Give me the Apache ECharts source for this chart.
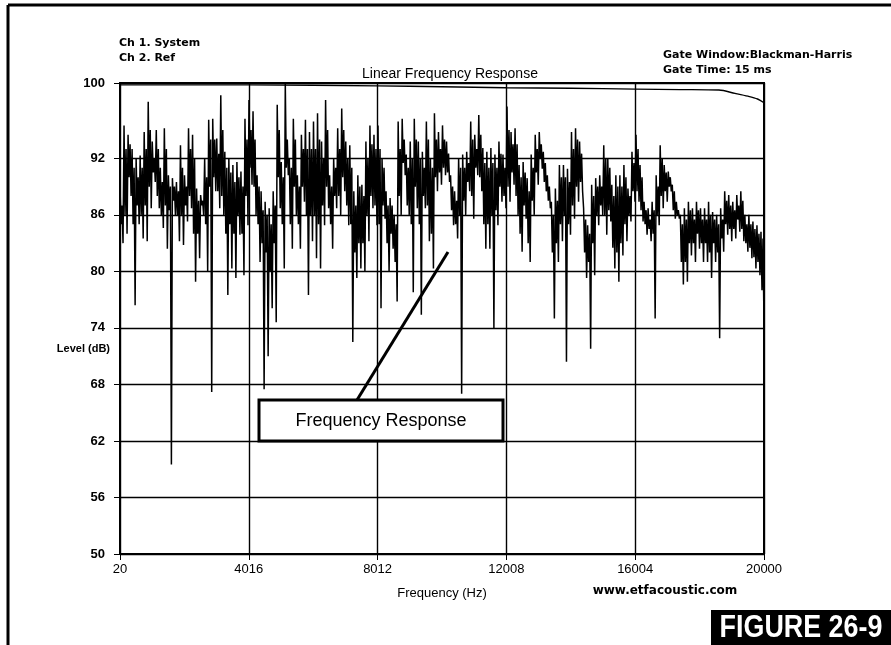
<!DOCTYPE html>
<html>
<head>
<meta charset="utf-8">
<script src="https://cdn.jsdelivr.net/npm/echarts@6/dist/echarts.min.js"></script>
<style>
html,body{margin:0;padding:0;background:#fff;}
#chart{width:891px;height:645px;}
</style>
</head>
<body>
<div id="chart"></div>
<script>
// ---- data ----
const xTicks = [20, 4016, 8012, 12008, 16004, 20000];
const yTicks = [50, 56, 62, 68, 74, 80, 86, 92, 100];

// Ch 1 (System) – per narrow frequency bin (160 bins, 20 Hz .. 20 kHz):
// highest peak, top of dense band, bottom of dense band, deepest dip (dB)
const sysUpper = [
 89,95.5,94.5,93,92,92.3,94.8,98,93.8,95,91,95.2,90.2,89.9,89.5,93.4,90.2,95.2,94.5,88.8,
 88.1,92,96.1,96.2,94.1,98.7,92.7,92,91.3,91.6,90.6,96.2,98.2,97,90.2,88.5,87.4,86.7,88.5,97.7,
 91.6,100,92,96.2,90.2,94.5,96.1,94.8,95.9,96.8,93.8,98.2,90.2,92,95.2,97.3,93.8,93.4,88.5,90.2,
 89.2,93.8,95.5,94.5,95.5,92,88.5,87.8,86,95.9,96.2,92.4,93.8,96.2,93.8,92.7,95.9,92,96.8,94.8,
 95.5,93.8,90.2,88.5,92,92.4,92.7,95.9,94.5,96.6,93.1,92.7,93.1,92.4,93.8,92.4,97.5,94.8,95.2,91.3,
 91.6,89.9,92.4,94.5,94.8,92.7,90.2,87.4,88.8,91.3,91.3,90.9,94.8,95.2,93.8,86.7,84.9,89.2,89.9,90.2,
 93.4,92,89.2,90.2,90.2,91.3,88.8,92.7,94.5,91.3,87.4,86.7,87.4,90.2,93.4,91.3,90.6,89.2,87.4,86,
 86.7,87.4,86.7,87.4,86.7,86.7,87.4,86.3,86,86.7,88.5,88.1,87.4,88.1,88.5,86,86,85.3,84.9,84.2
];
const sysBandHi = [
 87,93,93.5,91,90,91,93,95,92,93,89.5,93,89,89,88.5,91,89,93,92,87.5,
 87.5,90,94,94,92.5,95,91,90.5,89.5,90,89,94,95,94,89,86.5,86,85,87,95,
 90,94,91,94,89,93,93,93,93,94,92,95,89,91,93,95,92,91,87,89,
 88,92,93.5,93,93,91,87,87,85,93,94,91,92,94,92,91,94,91,94,93,
 94,92.5,89,87.5,91,91,91.5,94,93,94.5,91.5,91,91.5,91,92.5,91,95,93.5,93.5,90,
 90.5,88.5,91,93,93.5,91.5,89,86,87.5,90,90,89.5,93,94,92.5,85.5,84,88,89,89,
 92,91,88,89,89,90,88,91.5,93,90,86.5,85.5,86.5,89,92,90.5,90,88.5,86.5,85,
 85.5,86.5,85.5,86.5,85.5,85.5,86,85.5,85,85.5,87.5,87,86.5,87,87.5,85,85,84.5,84,83.5
];
const sysBandLo = [
 85,86,90,85,87,86,87,89,90.5,88,86,87,86.5,87.5,86,86,87,88,84,84,
 87,85,89,90,88.5,88,84,85,84,86,84,88,91,89,85,83,82,80,83,90,
 85,91,85,89,85,89,86,86,86,85,87,89,85,88,88,90,87,85,82,83,
 83,86,88,87,85,87,83,84,81,88,91.5,87,85,89,85,88,87,84,90,90.5,
 91,90.5,86.5,85,86,87.5,89.5,88,91,90,85,85,86,86.5,89,88,89,90.5,88,84,
 87,83,87.5,90.5,92,89.5,87.5,82,83,85,86,85,87,89,89.5,82,81,83,86,87,
 86,86.5,82.5,82,83,85,86,88.5,88.5,86.5,85,84.5,84,86,88,88.5,89,86.5,86,81,
 81,83,83,84,83,83,82,83,82,83.5,85,84.5,84.5,85.5,84.5,83,82.5,81.5,81,78
];
const sysLower = [
 83,84,88,76.4,85,83.5,83.2,86.7,89.5,86.7,84.6,82.4,59.5,86,83.2,82.8,85.3,86.7,78.9,81.4,
 86,80,67.2,88.5,86.7,86,77.5,80.3,79.3,83.9,79.6,84.9,89.2,86,81,67.5,71,76.1,74.6,86.7,
 80.3,90.2,82.4,86,82.4,87.4,77.5,83.2,81.4,80.3,84.9,86.7,82.4,86.7,86,88.5,84.9,72.5,79.3,80.3,
 80,83.2,86.7,84.9,76.1,85.6,80,82.4,76.8,86,90.2,86,77.8,86.7,75.4,86.7,83.2,80.3,88.5,89.2,
 90.2,89.5,84.9,83.5,67,86,88.5,85.6,90.2,88.5,82.4,82.4,74,84.9,87.4,86.7,87.4,89.2,86,82.1,
 85.6,81,86,89.2,90.9,88.5,86.7,75,81,83.2,70.4,83.9,85.6,87.4,88.5,79.3,71.8,79.6,84.9,86,
 83.9,85.3,80.3,78.9,81.7,83.2,85.3,87.4,87.4,85.3,83.9,83.2,75,84.9,86.7,87.4,88.5,85.6,85.6,78.6,
 78.9,81.7,81,82.4,81,81,79.3,81,72.9,82.1,83.9,83.2,83.5,84.2,83.2,82.1,81.4,80.3,79.6,74.3
];

// Ch 2 (Ref) – gate window curve
const refFreq  = [20, 4000, 8000, 10000, 12000, 14000, 16000, 17400, 18600, 19100, 19500, 19800, 20000];
const refLevel = [99.8, 99.8, 99.7, 99.6, 99.5, 99.45, 99.35, 99.3, 99.25, 98.9, 98.6, 98.3, 97.9];

// ---- build series data (4 readings per bin, in trace order) ----
const fMin = 20, fMax = 20000;
const perBin = 4;
const nPts = sysUpper.length * perBin;
const sysData = [];
for (let i = 0; i < sysUpper.length; i++) {
  const vals = [sysUpper[i], sysBandLo[i], sysBandHi[i], sysLower[i]];
  for (let j = 0; j < perBin; j++) {
    const k = i * perBin + j;
    sysData.push([fMin + k * (fMax - fMin) / (nPts - 1), vals[j]]);
  }
}
const refData = refFreq.map((f, i) => [f, refLevel[i]]);

const FONT = "'Liberation Sans', Arial, sans-serif";
const chart = echarts.init(document.getElementById('chart'), null, {renderer: 'canvas'});
chart.setOption({
  animation: false,
  backgroundColor: '#fff',
  grid: {left: 120, right: 127, top: 83, bottom: 91, show: true, borderColor: '#000', borderWidth: 2, backgroundColor: 'transparent'},
  xAxis: {
    type: 'value', min: fMin, max: fMax,
    axisLine: {show: true, onZero: false, lineStyle: {color: '#000', width: 2}},
    axisTick: {show: true, customValues: xTicks, length: 6, lineStyle: {color: '#000', width: 1}},
    axisLabel: {customValues: xTicks, color: '#000', fontSize: 13, margin: 9, fontFamily: FONT,
                formatter: v => String(v)},
    splitLine: {show: true, lineStyle: {color: '#000', width: 1.4}},
    name: 'Frequency (Hz)', nameLocation: 'middle', nameGap: 33,
    nameTextStyle: {color: '#000', fontSize: 13, fontFamily: FONT}
  },
  yAxis: {
    type: 'value', min: 50, max: 100,
    axisLine: {show: true, lineStyle: {color: '#000', width: 2}},
    axisTick: {show: true, customValues: yTicks, length: 6, lineStyle: {color: '#000', width: 1}},
    axisLabel: {customValues: yTicks, color: '#000', fontSize: 13, fontWeight: 'bold', margin: 15, fontFamily: FONT,
                formatter: v => String(v)},
    splitLine: {show: true, lineStyle: {color: '#000', width: 1.4}}
  },
  series: [
    {type: 'line', name: 'Ch 1. System', data: sysData, showSymbol: false, symbol: 'none',
     lineStyle: {color: '#000', width: 1.5}, sampling: null, clip: true, z: 3},
    {type: 'line', name: 'Ch 2. Ref', data: refData, showSymbol: false, symbol: 'none', smooth: 0.3,
     lineStyle: {color: '#000', width: 1.4}, clip: true, z: 4}
  ],
  graphic: [
    // outer frame
    {type: 'line', shape: {x1: 8, y1: 5, x2: 891, y2: 5}, style: {stroke: '#000', lineWidth: 3}},
    {type: 'line', shape: {x1: 8, y1: 5, x2: 8, y2: 645}, style: {stroke: '#000', lineWidth: 3}},
    // header texts
    {type: 'text', x: 119, y: 43, style: {text: 'Ch 1. System', fill: '#000', font: "bold 11px 'DejaVu Sans', sans-serif", textVerticalAlign: 'middle'}},
    {type: 'text', x: 119, y: 58, style: {text: 'Ch 2. Ref', fill: '#000', font: "bold 11px 'DejaVu Sans', sans-serif", textVerticalAlign: 'middle'}},
    {type: 'text', x: 663, y: 55, style: {text: 'Gate Window:Blackman-Harris', fill: '#000', font: "bold 11px 'DejaVu Sans', sans-serif", textVerticalAlign: 'middle'}},
    {type: 'text', x: 663, y: 70, style: {text: 'Gate Time: 15 ms', fill: '#000', font: "bold 11px 'DejaVu Sans', sans-serif", textVerticalAlign: 'middle'}},
    {type: 'text', x: 450, y: 74, style: {text: 'Linear Frequency Response', fill: '#000', font: "14px " + FONT, textAlign: 'center', textVerticalAlign: 'middle'}},
    {type: 'text', x: 110, y: 349, style: {text: 'Level (dB)', fill: '#000', font: "bold 11px " + FONT, textAlign: 'right', textVerticalAlign: 'middle'}},
    {type: 'text', x: 665, y: 591, style: {text: 'www.etfacoustic.com', fill: '#000', font: "bold 12px 'DejaVu Sans', sans-serif", textAlign: 'center', textVerticalAlign: 'middle'}},
    // annotation
    {type: 'line', shape: {x1: 448, y1: 252, x2: 357, y2: 400}, style: {stroke: '#000', lineWidth: 3}, z: 10},
    {type: 'rect', shape: {x: 259, y: 400, width: 244, height: 41}, style: {fill: '#fff', stroke: '#000', lineWidth: 3}, z: 10},
    {type: 'text', x: 381, y: 421, style: {text: 'Frequency Response', fill: '#000', font: "18px " + FONT, textAlign: 'center', textVerticalAlign: 'middle'}, z: 11},
    // figure badge
    {type: 'rect', shape: {x: 711, y: 610, width: 180, height: 35}, style: {fill: '#000'}, z: 10},
    {type: 'text', x: 801, y: 628, scaleX: 0.84, style: {text: 'FIGURE 26-9', fill: '#fff', font: "bold 32px 'Liberation Sans', Arial, sans-serif", textAlign: 'center', textVerticalAlign: 'middle'}, z: 11}
  ]
});
</script>
</body>
</html>
